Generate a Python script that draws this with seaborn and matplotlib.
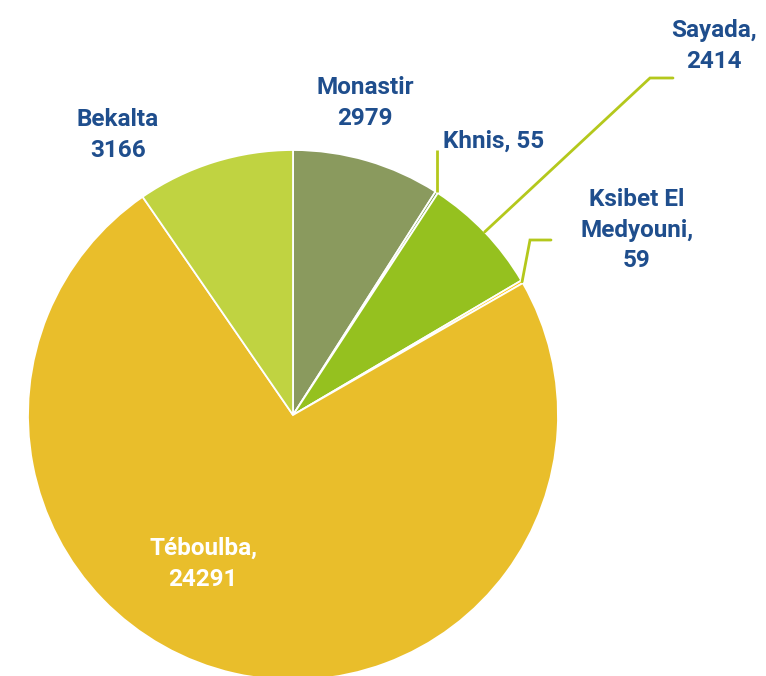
import numpy as np
import matplotlib
matplotlib.use("Agg")
import matplotlib.pyplot as plt
import seaborn as sns

sns.set_theme(style="white")
plt.rcParams["font.family"] = ["Roboto", "DejaVu Sans"]

# Delegations and their counts, clockwise from 12 o'clock
delegations = ["Monastir", "Khnis", "Sayada", "Ksibet El Medyouni", "Téboulba", "Bekalta"]
counts = [2979, 55, 2414, 59, 24291, 3166]
labels = ["Monastir\n2979", "Khnis, 55", "Sayada,\n2414", "Ksibet El\nMedyouni,\n59",
          "Téboulba,\n24291", "Bekalta\n3166"]
colors = ["#8A9A5E", "#6F9A3C", "#95C11F", "#FFC90E", "#E9BE2B", "#C0D341"]

W, H, DPI = 766, 676, 100
fig = plt.figure(figsize=(W / DPI, H / DPI), dpi=DPI)
ax = fig.add_axes([0, 0, 1, 1])

wedges, _ = ax.pie(counts, colors=colors, startangle=90, counterclock=False, radius=1,
                   wedgeprops=dict(edgecolor="white", linewidth=1.3))

# pie centre / radius in pixel terms -> axis limits in unit-radius coordinates
cx, cy, R = 293, 415, 265
ax.set_xlim(-cx / R, (W - cx) / R)
ax.set_ylim(-(H - cy) / R, cy / R)
ax.set_aspect("equal")
ax.axis("off")

total = sum(counts)
cum = np.cumsum([0] + counts)
mid_deg = [(cum[i] + cum[i + 1]) / 2 / total * 360 for i in range(len(counts))]


def edge_point(i, r=1.0):
    a = np.deg2rad(mid_deg[i])
    return r * np.sin(a), r * np.cos(a)


def px(x, y):
    return (x - cx) / R, (cy - y) / R


txt_col = "#1F4E8D"
fs = 17.5
line_col = "#B4C81C"
common = dict(ha="center", va="center", fontsize=fs, fontweight="bold", linespacing=1.42)

# Monastir (no leader)
ax.text(*px(365, 103), labels[0], color=txt_col, **common)
# Bekalta (no leader)
ax.text(*px(118, 135), labels[5], color=txt_col, **common)
# Téboulba inside the slice
ax.text(*px(203, 564), labels[4], color="white", **common)

# Khnis: vertical leader
x0, y0 = edge_point(1)
ax.plot([x0, x0], [y0, px(0, 150)[1]], color=line_col, lw=2, solid_capstyle="butt")
ax.text(*px(494, 141), labels[1], color=txt_col, **common)

# Sayada: diagonal leader then short horizontal
x0, y0 = edge_point(2)
xa, ya = px(650, 78)
xb, _ = px(673, 78)
ax.plot([x0, xa, xb], [y0, ya, ya], color=line_col, lw=2, solid_joinstyle="miter")
ax.text(*px(714, 46), labels[2], color=txt_col, **common)

# Ksibet El Medyouni: short leader
x0, y0 = edge_point(3)
xa, ya = px(530, 240)
xb, _ = px(551, 240)
ax.plot([x0, xa, xb], [y0, ya, ya], color=line_col, lw=2, solid_joinstyle="miter")
ax.text(*px(637, 230), labels[3], color=txt_col, **common)

fig.savefig("out.png", dpi=DPI, facecolor="white")
